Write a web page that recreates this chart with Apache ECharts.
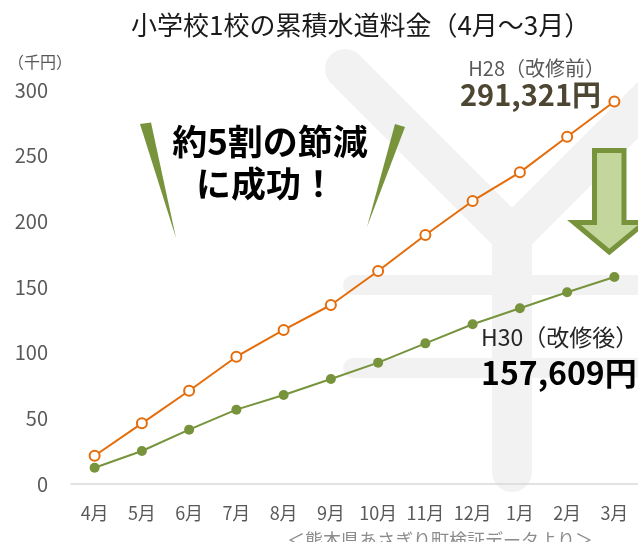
<!DOCTYPE html>
<html>
<head>
<meta charset="utf-8">
<script src="https://cdn.jsdelivr.net/npm/echarts@6/dist/echarts.min.js"></script>
<style>
  html, body { margin: 0; padding: 0; background: #fff; }
  #chart { width: 638px; height: 542px; }
</style>
</head>
<body>
<div id="chart"></div>
<script>
const months = ["4月", "5月", "6月", "7月", "8月", "9月", "10月", "11月", "12月", "1月", "2月", "3月"];
// 累積水道料金（千円）
const h28 = [21.5, 46.2, 71.0, 96.9, 117.3, 136.3, 162.2, 189.6, 215.5, 237.3, 264.4, 291.3];
const h30 = [12.4, 25.1, 41.4, 56.6, 67.8, 80.0, 92.4, 107.1, 121.6, 133.8, 146.0, 157.6];
const yTicks = { min: 0, max: 300, interval: 50 };

const FONT = '"Noto Sans CJK JP", "Noto Sans", sans-serif';
const chart = echarts.init(document.getElementById("chart"));

function label(x, y, text, size, color, opts = {}) {
  return {
    type: "text", x, y, z: 50,
    style: {
      text, fontSize: size, fill: color, fontFamily: FONT,
      fontWeight: opts.bold ? "bold" : "normal",
      align: opts.align || "left", verticalAlign: "middle",
    },
  };
}

function grayLine(points, width) {
  return {
    type: "polyline", z: -5, silent: true,
    shape: { points },
    style: { stroke: "#F2F2F2", lineWidth: width, lineCap: "round", lineJoin: "round", fill: null },
  };
}

chart.setOption({
  animation: false,
  grid: { left: 71, right: -7, top: 90, bottom: 58 },
  xAxis: {
    type: "category",
    data: months,
    axisLine: { lineStyle: { color: "#D9D9D9", width: 1.5 } },
    axisTick: { show: false },
    axisLabel: { color: "#595959", fontSize: 18, fontFamily: FONT, margin: 20, interval: 0 },
  },
  yAxis: {
    type: "value",
    ...yTicks,
    axisLine: { show: false },
    axisTick: { show: false },
    splitLine: { show: false },
    axisLabel: { color: "#595959", fontSize: 20, fontFamily: FONT, margin: 23 },
  },
  graphic: [
    // background yen mark
    grayLine([[345, 69], [512, 236], [512, 472]], 40),
    grayLine([[512, 236], [700, 48]], 40),
    grayLine([[353, 285], [720, 285]], 20),
    grayLine([[353, 368], [720, 368]], 20),
    // title and unit
    label(131, 25, "小学校1校の累積水道料金（4月～3月）", 26, "#1a1a1a"),
    label(8, 62, "（千円）", 16, "#595959"),
    // annotations
    label(605, 68, "H28（改修前）", 20, "#595959", { align: "right" }),
    label(601, 95, "291,321円", 29, "#4D4632", { align: "right", bold: true }),
    label(481, 337, "H30（改修後）", 23, "#262626"),
    label(481, 373, "157,609円", 32, "#000", { bold: true }),
    label(270, 142, "約5割の節減", 35, "#000", { align: "center", bold: true }),
    label(266, 184, "に成功！", 35, "#000", { align: "center", bold: true }),
    label(440, 540, "＜熊本県あさぎり町検証データより＞", 18, "#8c8c8c", { align: "center" }),
    // green wedges
    {
      type: "polygon", z: 40,
      shape: { points: [[140, 124], [151, 122.5], [176, 238]] },
      style: { fill: "#77933C" },
    },
    {
      type: "polygon", z: 40,
      shape: { points: [[395, 124], [405, 127], [367, 227]] },
      style: { fill: "#77933C" },
    },
    // down arrow
    {
      type: "polygon", z: 40,
      shape: { points: [[594.5, 150.5], [624, 150.5], [624, 222.5], [645, 222.5], [609.3, 252], [574, 222.5], [594.5, 222.5]] },
      style: { fill: "#C3D69B", stroke: "#77933C", lineWidth: 5, lineJoin: "miter" },
    },
  ],
  series: [
    {
      name: "H28",
      type: "line",
      data: h28,
      symbol: "circle",
      symbolSize: 10,
      z: 10,
      lineStyle: { color: "#E46C0A", width: 2 },
      itemStyle: { color: "#fff", borderColor: "#E46C0A", borderWidth: 2 },
    },
    {
      name: "H30",
      type: "line",
      data: h30,
      symbol: "circle",
      symbolSize: 10,
      z: 10,
      lineStyle: { color: "#77933C", width: 2 },
      itemStyle: { color: "#77933C" },
    },
  ],
});
</script>
</body>
</html>
